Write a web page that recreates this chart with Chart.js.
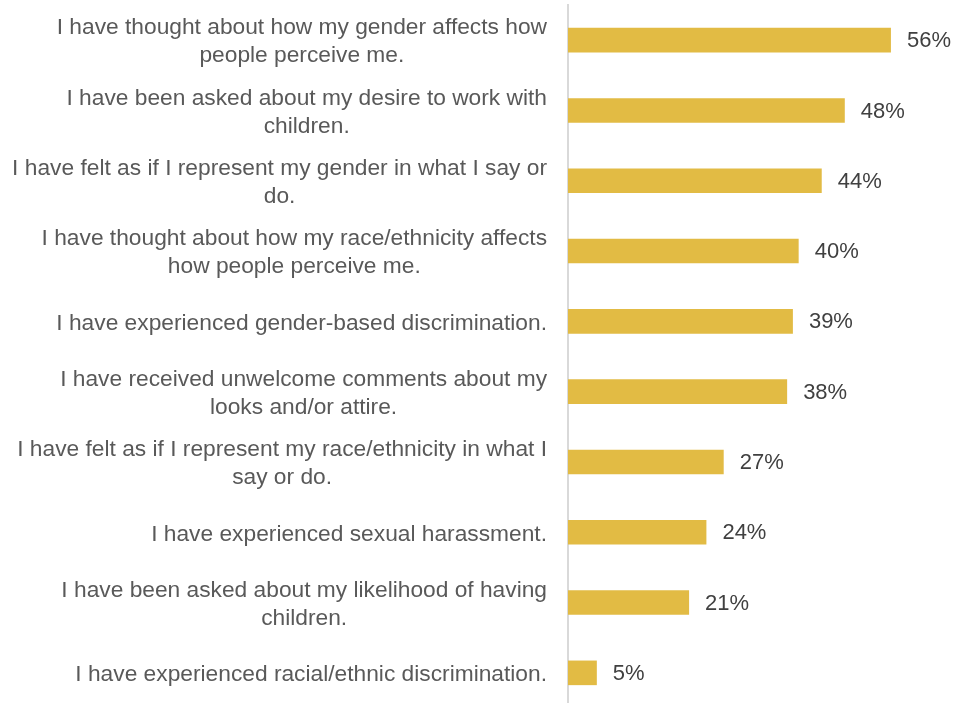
<!DOCTYPE html>
<html>
<head>
<meta charset="utf-8">
<script src="https://cdn.jsdelivr.net/npm/chart.js@4.4.1/dist/chart.umd.min.js"></script>
<style>
  html, body { margin: 0; padding: 0; background: #ffffff; overflow: hidden; }
  #wrap { position: relative; width: 955px; height: 709px; }
</style>
</head>
<body>
<div id="wrap"><canvas id="chart"></canvas></div>
<script>
// Survey statements, one entry per bar, already split into display lines
const statements = [
  ["I have thought about how my gender affects how", "people perceive me."],
  ["I have been asked about my desire to work with", "children."],
  ["I have felt as if I represent my gender in what I say or", "do."],
  ["I have thought about how my race/ethnicity affects", "how people perceive me."],
  ["I have experienced gender-based discrimination."],
  ["I have received unwelcome comments about my", "looks and/or attire."],
  ["I have felt as if I represent my race/ethnicity in what I", "say or do."],
  ["I have experienced sexual harassment."],
  ["I have been asked about my likelihood of having", "children."],
  ["I have experienced racial/ethnic discrimination."]
];

// Share of respondents (%)
const shares = [56, 48, 44, 40, 39, 38, 27, 24, 21, 5];

const AXIS_MAX = 60;
const LABEL_RIGHT = 547;          // right edge of the statement text blocks
const LABEL_FONT = '22.75px "Liberation Sans", Arial, sans-serif';
const LABEL_LINE = 28;
const VALUE_FONT = '22px "Liberation Sans", Arial, sans-serif';

// Statement labels: right-aligned block, each line centred within the block
const statementLabels = {
  id: 'statementLabels',
  afterDraw(chart) {
    const ctx = chart.ctx;
    const yScale = chart.scales.y;
    ctx.save();
    ctx.font = LABEL_FONT;
    ctx.fillStyle = '#595959';
    ctx.textAlign = 'center';
    ctx.textBaseline = 'middle';
    statements.forEach((lines, i) => {
      const cy = yScale.getPixelForValue(i) + 2;
      const blockW = Math.max(...lines.map(l => ctx.measureText(l).width));
      const cx = LABEL_RIGHT - blockW / 2;
      const top = cy - (lines.length * LABEL_LINE) / 2 + LABEL_LINE / 2;
      lines.forEach((line, k) => ctx.fillText(line, cx, top + k * LABEL_LINE));
    });
    ctx.restore();
  }
};

// Percentage printed just past the end of each bar
const valueLabels = {
  id: 'valueLabels',
  afterDatasetsDraw(chart) {
    const ctx = chart.ctx;
    const meta = chart.getDatasetMeta(0);
    ctx.save();
    ctx.font = VALUE_FONT;
    ctx.fillStyle = '#404040';
    ctx.textAlign = 'left';
    ctx.textBaseline = 'middle';
    meta.data.forEach((bar, i) => {
      ctx.fillText(shares[i] + '%', bar.x + 16, bar.y + 1);
    });
    ctx.restore();
  }
};

new Chart(document.getElementById('chart'), {
  type: 'bar',
  data: {
    labels: statements.map(l => l.join(' ')),
    datasets: [{
      data: shares,
      backgroundColor: '#E2BB44',
      borderWidth: 0,
      categoryPercentage: 1,
      barPercentage: 0.35
    }]
  },
  options: {
    indexAxis: 'y',
    responsive: true,
    maintainAspectRatio: false,
    animation: false,
    layout: { padding: { top: 5, right: 41, bottom: 1, left: 0 } },
    plugins: {
      legend: { display: false },
      tooltip: { enabled: false }
    },
    scales: {
      x: {
        display: false,
        min: 0,
        max: AXIS_MAX
      },
      y: {
        ticks: { display: false },
        grid: { display: false, drawTicks: false },
        border: { display: true, color: '#D9D9D9', width: 2 },
        afterFit(scale) { scale.width = 568; }
      }
    }
  },
  plugins: [statementLabels, valueLabels]
});
</script>
</body>
</html>
